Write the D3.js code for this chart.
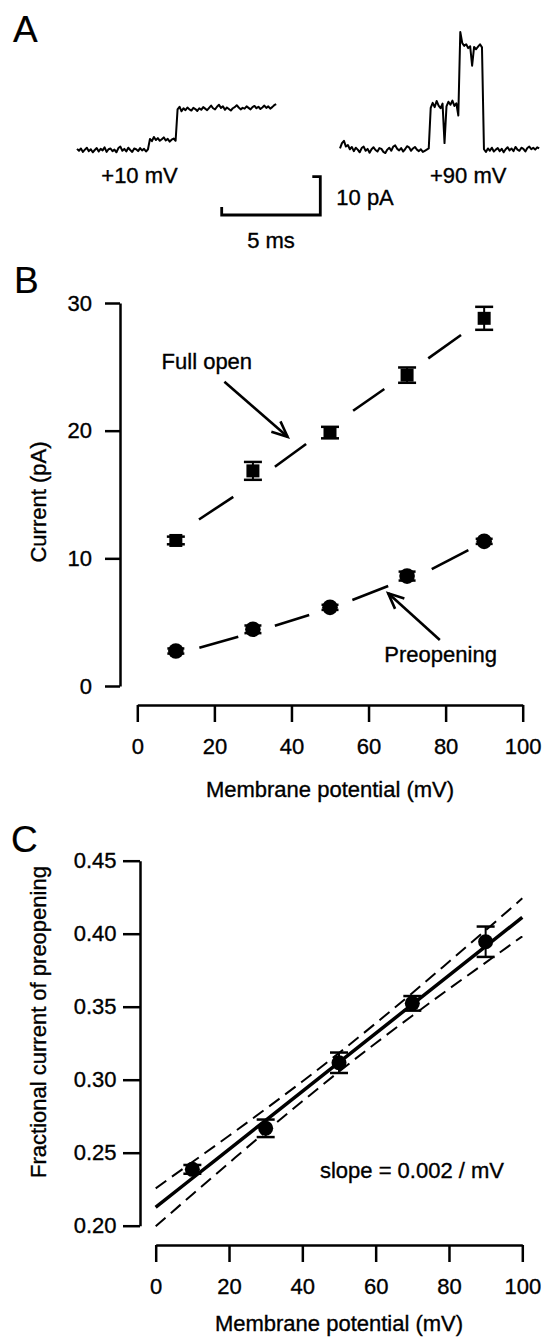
<!DOCTYPE html>
<html><head><meta charset="utf-8">
<script src="https://cdn.jsdelivr.net/npm/d3@7"></script>
<style>
html,body{margin:0;padding:0;background:#fff;}
svg{display:block;}
text{font-family:"Liberation Sans",Arial,Helvetica,sans-serif;fill:#000;stroke:#000;stroke-width:0.35px;}
</style>
</head><body>
<svg id="chart" width="546" height="1344"></svg>
<script>
// ---------------- DATA ----------------
// Panel A: single-channel traces, sampled every 0.1 ms (current in pA)
const sampleInterval = 0.1;
const trace10mV = [0.3,-0.2,0.4,-0.5,0.1,0.6,-0.3,0.2,-0.6,0.0,0.5,-0.4,0.3,-0.1,0.7,-0.5,0.2,0.4,-0.3,0.1,-0.6,0.5,0.9,-0.2,0.3,-0.4,0.6,0.0,-0.5,0.4,0.2,-0.3,0.5,-0.1,0.3,-0.4,0.2,
  2.9,2.3,3.4,2.6,3.1,2.4,2.8,3.3,2.5,2.9,2.2,2.7,3.0,2.4,
  10.6,11.3,10.1,10.9,10.4,11.1,10.6,10.3,11.0,10.7,10.2,10.9,10.5,11.2,10.8,10.4,11.0,11.6,10.9,10.6,11.3,11.8,11.0,11.4,10.5,11.1,10.7,10.3,10.9,11.2,11.7,11.1,10.6,11.0,10.8,11.4,11.0,10.6,11.2,11.5,10.9,11.3,10.7,11.1,11.6,11.0,11.4,10.8,11.2,11.7,12.0];
const trace90mV = [0.4,1.8,2.4,0.9,1.3,0.2,0.8,-0.3,0.6,0.1,-0.6,0.5,0.9,-0.2,0.3,-0.7,0.2,0.7,0.0,-0.4,0.5,0.3,-0.5,-0.8,0.1,0.6,-0.2,0.9,1.2,0.3,-0.1,0.5,-0.4,0.2,1.0,0.7,-0.2,0.4,0.8,0.1,-0.3,0.2,-0.5,-0.2,0.1,0.4,
  11.0,12.3,11.2,12.8,11.6,10.9,12.1,1.8,11.4,12.6,11.8,12.9,11.5,12.2,9.0,
  30.8,27.9,27.2,27.6,26.6,27.1,22.0,26.9,26.3,27.0,27.6,26.8,
  0.2,-0.5,0.4,-0.2,0.6,-0.4,0.1,0.5,-0.3,0.3,-0.6,0.2,0.7,-0.1,0.4,-0.3,0.8,0.1,-0.2,0.6,0.3,-0.4,0.5,0.9,0.2,0.6,0.1,0.7,0.4];
const traceLabels = ["+10 mV", "+90 mV"];
const scaleBarMs = 5, scaleBarPa = 10;

// Panel B
const potentials = [10, 30, 50, 70, 90];
const fullOpen = [11.4, 16.85, 19.85, 24.35, 28.8];
const fullOpenErr = [0.3, 0.7, 0.45, 0.6, 0.9];
const preopening = [2.74, 4.44, 6.16, 8.61, 11.33];
const preopeningErr = [0.2, 0.3, 0.2, 0.35, 0.2];
// dashed fit segments [mV0, pA0, mV1, pA1]
const fullFitDashes = [[16.0,13.04,24.9,14.82],[35.7,17.17,43.8,18.95],[56.0,21.56,64.1,23.26],[75.5,25.66,84.0,27.49]];
const preFitDashes = [[16.1,3.0,26.2,3.86],[35.7,4.72,44.6,5.56],[55.8,6.73,65.1,7.83],[76.4,9.16,85.9,10.65]];
const xTicks = [0, 20, 40, 60, 80, 100];
const yTicksB = [0, 10, 20, 30];

// Panel C
const fraction = [0.2386, 0.2667, 0.3116, 0.3523, 0.3945];
const fractionErr = [0.003, 0.006, 0.007, 0.005, 0.0104];
const fitX = [0, 10, 20, 30, 40, 50, 60, 70, 80, 90, 100];
const fitLine = [0.2126, 0.2325, 0.2523, 0.2722, 0.2920, 0.3119, 0.3318, 0.3516, 0.3715, 0.3913, 0.4112];
const bandUpper = [0.2256, 0.2436, 0.2616, 0.2800, 0.2988, 0.3183, 0.3386, 0.3594, 0.3808, 0.4024, 0.4242];
const bandLower = [0.1996, 0.2214, 0.2430, 0.2644, 0.2852, 0.3055, 0.3250, 0.3438, 0.3622, 0.3802, 0.3982];
const yTicksC = [0.20, 0.25, 0.30, 0.35, 0.40, 0.45];

// ---------------- DRAWING ----------------
const svg = d3.select("#chart");
const FONT = '"Liberation Sans", Arial, Helvetica, sans-serif';
const FS = 22;

function panelLetter(t, x, y) {
  svg.append("text").attr("x", x).attr("y", y).attr("font-size", 37).style("stroke-width", "0.2px").text(t);
}
function styleAxis(g) {
  g.attr("font-family", FONT).attr("font-size", FS);
  g.select(".domain").attr("stroke", "#000").attr("stroke-width", 2.5).attr("fill", "none");
  g.selectAll(".tick line").attr("stroke", "#000").attr("stroke-width", 2.5);
  g.selectAll(".tick text").attr("fill", "#000");
}
function arrow(g, x1, y1, x2, y2) {
  const ang = Math.atan2(y2 - y1, x2 - x1), L = 17, a = 0.42;
  g.append("line").attr("x1", x1).attr("y1", y1).attr("x2", x2).attr("y2", y2)
    .attr("stroke", "#000").attr("stroke-width", 2.6);
  g.append("path")
    .attr("d", `M${x2 - L * Math.cos(ang - a)},${y2 - L * Math.sin(ang - a)}L${x2},${y2}L${x2 - L * Math.cos(ang + a)},${y2 - L * Math.sin(ang + a)}`)
    .attr("fill", "none").attr("stroke", "#000").attr("stroke-width", 2.6);
}
function errorBars(g, xs, ys, es, xS, yS, cap) {
  xs.forEach((x, i) => {
    const px = xS(x), lo = yS(ys[i] - es[i]), hi = yS(ys[i] + es[i]);
    g.append("line").attr("x1", px).attr("x2", px).attr("y1", lo).attr("y2", hi).attr("stroke", "#000").attr("stroke-width", 2);
    [lo, hi].forEach(yy => g.append("line").attr("x1", px - cap / 2).attr("x2", px + cap / 2)
      .attr("y1", yy).attr("y2", yy).attr("stroke", "#000").attr("stroke-width", 2.5));
  });
}

// ----- Panel A -----
panelLetter("A", 13, 42);
const gA = svg.append("g");
const pxPerMs = 19.72;
const tA1 = d3.scaleLinear().domain([0, 5]).range([77, 77 + 5 * pxPerMs]);
const tA2 = d3.scaleLinear().domain([0, 5]).range([340, 340 + 5 * pxPerMs]);
const iA = d3.scaleLinear().domain([0, 10]).range([150, 111.7]);
[[trace10mV, tA1], [trace90mV, tA2]].forEach(([tr, tS]) => {
  const ln = d3.line().x((d, i) => tS(i * sampleInterval)).y(d => iA(d));
  gA.append("path").attr("d", ln(tr)).attr("fill", "none").attr("stroke", "#000")
    .attr("stroke-width", 2).attr("stroke-linejoin", "round");
});
gA.append("text").attr("x", tA1(3.17)).attr("y", 183).attr("text-anchor", "middle").attr("font-size", FS).text(traceLabels[0]);
gA.append("text").attr("x", tA2(6.5)).attr("y", 183).attr("text-anchor", "middle").attr("font-size", FS).text(traceLabels[1]);
// scale bar
const sbX = d3.scaleLinear().domain([0, scaleBarMs]).range([320.3 - scaleBarMs * pxPerMs, 320.3]);
const sbY = d3.scaleLinear().domain([0, scaleBarPa]).range([215, 215 - (iA(0) - iA(10))]);
gA.append("path")
  .attr("d", `M${sbX(0)},${sbY(0) - 8}V${sbY(0)}H${sbX(scaleBarMs)}V${sbY(scaleBarPa)}H${sbX(scaleBarMs) - 8}`)
  .attr("fill", "none").attr("stroke", "#000").attr("stroke-width", 2.8);
gA.append("text").attr("x", sbX(scaleBarMs) + 16).attr("y", 205).attr("font-size", FS).text(scaleBarPa + " pA");
gA.append("text").attr("x", sbX(scaleBarMs / 2)).attr("y", 248).attr("text-anchor", "middle").attr("font-size", FS).text(scaleBarMs + " ms");

// ----- Panel B -----
panelLetter("B", 14, 293);
const xB = d3.scaleLinear().domain([0, 100]).range([137.3, 522.7]);
const yB = d3.scaleLinear().domain([0, 30]).range([686, 303]);
const gB = svg.append("g");
const yAxB = gB.append("g").attr("transform", "translate(120,0)")
  .call(d3.axisLeft(yB).tickValues(yTicksB).tickSize(15).tickSizeOuter(0).tickPadding(13).tickFormat(d3.format("d")));
styleAxis(yAxB);
const xAxB = gB.append("g").attr("transform", "translate(0,705)")
  .call(d3.axisBottom(xB).tickValues(xTicks).tickSize(17).tickSizeOuter(0).tickPadding(16).tickFormat(d3.format("d")));
styleAxis(xAxB);
gB.append("text").attr("transform", "translate(46,502) rotate(-90)").attr("text-anchor", "middle").attr("font-size", FS).text("Current (pA)");
gB.append("text").attr("x", xB(50)).attr("y", 797).attr("text-anchor", "middle").attr("font-size", FS).text("Membrane potential (mV)");
// fit dashes
[fullFitDashes, preFitDashes].forEach(segs => segs.forEach(s => {
  gB.append("line").attr("x1", xB(s[0])).attr("y1", yB(s[1])).attr("x2", xB(s[2])).attr("y2", yB(s[3]))
    .attr("stroke", "#000").attr("stroke-width", 2.6);
}));
errorBars(gB, potentials, fullOpen, fullOpenErr, xB, yB, 18);
errorBars(gB, potentials, preopening, preopeningErr, xB, yB, 17);
gB.selectAll("rect.sq").data(potentials).enter().append("rect").attr("class", "sq")
  .attr("x", d => xB(d) - 6.5).attr("y", (d, i) => yB(fullOpen[i]) - 6.5).attr("width", 13).attr("height", 13).attr("fill", "#000");
gB.selectAll("circle.pre").data(potentials).enter().append("circle").attr("class", "pre")
  .attr("cx", d => xB(d)).attr("cy", (d, i) => yB(preopening[i])).attr("r", 7.8).attr("fill", "#000");
// annotations
gB.append("text").attr("x", xB(6.3)).attr("y", yB(24.8)).attr("font-size", FS).text("Full open");
arrow(gB, xB(22.6), yB(23.83), xB(39.0), yB(19.52));
gB.append("text").attr("x", xB(64.1)).attr("y", yB(1.85)).attr("font-size", FS).text("Preopening");
arrow(gB, xB(78.5), yB(3.6), xB(65.1), yB(7.26));

// ----- Panel C -----
panelLetter("C", 11, 852);
const xC = d3.scaleLinear().domain([0, 100]).range([155.7, 522.3]);
const yC = d3.scaleLinear().domain([0.20, 0.45]).range([1225.7, 860.7]);
const gC = svg.append("g");
const yAxC = gC.append("g").attr("transform", "translate(140,0)")
  .call(d3.axisLeft(yC).tickValues(yTicksC).tickSize(17).tickSizeOuter(0).tickPadding(6.5).tickFormat(d3.format(".2f")));
styleAxis(yAxC);
const xAxC = gC.append("g").attr("transform", "translate(0,1245)")
  .call(d3.axisBottom(xC).tickValues(xTicks).tickSize(17).tickSizeOuter(0).tickPadding(16).tickFormat(d3.format("d")));
styleAxis(xAxC);
gC.append("text").attr("transform", "translate(46,1022) rotate(-90)").attr("text-anchor", "middle").attr("font-size", FS).text("Fractional current of preopening");
gC.append("text").attr("x", xC(50)).attr("y", 1331).attr("text-anchor", "middle").attr("font-size", FS).text("Membrane potential (mV)");
const lnC = arr => d3.line().x((d, i) => xC(fitX[i])).y(d => yC(d)).curve(d3.curveMonotoneX)(arr);
[bandUpper, bandLower].forEach(b => gC.append("path").attr("d", lnC(b)).attr("fill", "none")
  .attr("stroke", "#000").attr("stroke-width", 2).attr("stroke-dasharray", "13,7"));
gC.append("path").attr("d", lnC(fitLine)).attr("fill", "none").attr("stroke", "#000").attr("stroke-width", 3.5);
errorBars(gC, potentials, fraction, fractionErr, xC, yC, 18);
gC.selectAll("circle.fr").data(potentials).enter().append("circle").attr("class", "fr")
  .attr("cx", d => xC(d)).attr("cy", (d, i) => yC(fraction[i])).attr("r", 7.5).attr("fill", "#000");
gC.append("text").attr("x", xC(44.8)).attr("y", yC(0.2329)).attr("font-size", FS).text("slope = 0.002 / mV");
</script>
</body></html>
